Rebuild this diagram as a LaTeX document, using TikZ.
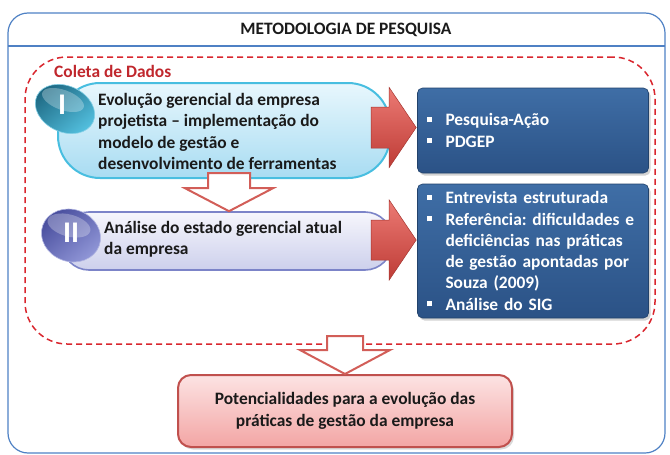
\documentclass[tikz,border=0pt]{standalone}
\usepackage{fontspec}
\setmainfont{Carlito}
\usetikzlibrary{shadows,calc,shapes.geometric}
\definecolor{outerblue}{HTML}{4F81C4}
\definecolor{dashred}{HTML}{D9262E}
\definecolor{coletared}{HTML}{C0272D}
\definecolor{cyanborder}{HTML}{48BEE0}
\definecolor{cyantop}{HTML}{E8F7FD}
\definecolor{cyanbot}{HTML}{A8DCF2}
\definecolor{lavborder}{HTML}{7C84C8}
\definecolor{lavtop}{HTML}{F6F6FC}
\definecolor{lavbot}{HTML}{CDD0EC}
\definecolor{steeltop}{HTML}{3F6EA6}
\definecolor{steelbot}{HTML}{2B5286}
\definecolor{arrowlight}{HTML}{EC7A74}
\definecolor{arrowdark}{HTML}{BE3C36}
\definecolor{arrowedge}{HTML}{A5352F}
\definecolor{pinktop}{HTML}{FCE3E3}
\definecolor{pinkbot}{HTML}{F3A5A4}
\definecolor{pinkborder}{HTML}{C0504D}
\definecolor{hollowred}{HTML}{D25E58}
\definecolor{tealdark}{HTML}{1C6680}
\definecolor{teallight}{HTML}{52BEDD}
\definecolor{purpdark}{HTML}{44499A}
\definecolor{purplight}{HTML}{8F95D6}
\definecolor{textdark}{HTML}{1A1A1A}
\newcommand\mybul{\makebox[19pt][l]{\rule[3.8pt]{5pt}{5pt}}}
\newcommand\myind{\hspace*{19pt}}
\tikzset{
  basefont/.style={font=\bfseries\fontsize{17.4}{21.3}\selectfont\frenchspacing},
  outerbox/.style={draw=outerblue, line width=1.2pt, rounded corners=20pt, inner sep=0},
  dashbox/.style={draw=dashred, dash pattern=on 6pt off 4pt, line width=1.5pt, rounded corners=42pt, inner sep=0},
  boxone/.style={draw=cyanborder, line width=2pt, top color=cyantop, bottom color=cyanbot, rounded corners=42pt, inner sep=0},
  boxtwo/.style={draw=lavborder, line width=1.6pt, top color=lavtop, bottom color=lavbot, rounded corners=27pt, inner sep=0},
  bluebox/.style={top color=steeltop, bottom color=steelbot, draw=steelbot!80!black, line width=0.6pt, rounded corners=5pt,
     text=white, text width=213pt, inner xsep=9pt, inner ysep=0pt, align=left, minimum width=231pt,
     drop shadow={opacity=0.35, shadow xshift=2pt, shadow yshift=-2.5pt}},
  pinkbox/.style={top color=pinktop, bottom color=pinkbot, draw=pinkborder, line width=2pt, rounded corners=13pt,
     align=center, text=textdark, inner sep=0,
     drop shadow={opacity=0.3, shadow xshift=2pt, shadow yshift=-2.5pt}},
  txt/.style={anchor=west, align=left, inner sep=0, text=textdark},
  numeral/.style={text=white, font=\bfseries\fontsize{30}{30}\selectfont, inner sep=0},
  tealball/.style={top color=tealdark, bottom color=teallight, shading angle=40, draw=teallight!70!white, line width=0.6pt},
  purpball/.style={top color=purpdark, bottom color=purplight, shading angle=40, draw=purplight!70!white, line width=0.6pt},
  gloss/.style={fill=white, opacity=0.28},
  redarrow/.style={top color=arrowlight, bottom color=arrowdark, draw=arrowedge, line width=0.5pt, line join=miter},
  hollowarrow/.style={fill=white, draw=hollowred, line width=2pt, line join=miter},
}
\begin{document}
\begin{tikzpicture}[x=1pt,y=1pt,basefont]
\useasboundingbox (0,0) rectangle (670,-455);
% outer frame
\node[outerbox, minimum width=657pt, minimum height=440pt] (outer) at (336.5,-233) {};
\coordinate (sepl) at (8,-46);
\coordinate (sepr) at (665,-46);
\draw[outerblue, line width=1.2pt] (sepl) -- (sepr);
\node[text=textdark, inner sep=0] (title) at (346,-30) {METODOLOGIA DE PESQUISA};
% dashed group
\node[dashbox, minimum width=630pt, minimum height=287pt] (coleta) at (340,-200.5) {};
\node[txt, text=coletared] (clabel) at (54,-71) {Coleta de Dados};
% box I
\node[boxone, minimum width=332pt, minimum height=95pt] (b1) at (224,-130.5) {};
\coordinate (c1) at (65,-109);
\shade[tealball] (c1) ellipse [x radius=31, y radius=23, rotate=-25];
\fill[gloss] ($(c1)+(-2,9)$) ellipse [x radius=22, y radius=10, rotate=-20];
\node[numeral] (n1) at (62,-105) {I};
\node[txt] (t1) at (98,-131.5) {Evolução gerencial da empresa\\projetista – implementação do\\modelo de gestão e\\desenvolvimento de ferramentas};
% box II
\node[boxtwo, minimum width=330pt, minimum height=58pt] (b2) at (227,-241) {};
\coordinate (c2) at (71,-235.5);
\shade[purpball] (c2) ellipse [x radius=30, y radius=26, rotate=-20];
\fill[gloss] ($(c2)+(-2,10)$) ellipse [x radius=22, y radius=11, rotate=-15];
\node[numeral] (n2) at (71,-233) {II};
\node[txt] (t2) at (104,-239) {Análise do estado gerencial atual\\da empresa};
% blue boxes
\node[bluebox, minimum height=85pt] (r1) at (533,-130.5) {\mybul Pesquisa-Ação\\\mybul PDGEP};
\node[bluebox, minimum height=134pt] (r2) at (533,-251) {\mybul Entrevista estruturada\\\mybul Referência: dificuldades e\\\myind deficiências nas práticas\\\myind de gestão apontadas por\\\myind Souza (2009)\\\mybul Análise do SIG};
% red arrows
\coordinate (ta) at ($(r1.west)+(-1,3)$);
\shade[redarrow] ($(ta)+(-45,20.5)$) -- ++(18,0) -- ++(0,19.5) -- (ta) -- ($(ta)+(-27,-40)$) -- ++(0,19.5) -- ++(-18,0) -- cycle;
\coordinate (tb) at ($(r2.west)+(-1,11)$);
\shade[redarrow] ($(tb)+(-45,20)$) -- ++(18,0) -- ++(0,20) -- (tb) -- ($(tb)+(-27,-40)$) -- ++(0,20) -- ++(-18,0) -- cycle;
% hollow arrows
\coordinate (tc) at (b2.north -| 229,0);
\draw[hollowarrow] ($(tc)+(-21,38)$) -- ++(42,0) -- ++(0,-15) -- ++(23,0) -- (tc) -- ($(tc)+(-44,23)$) -- ++(23,0) -- cycle;
% pink box
\node[pinkbox, minimum width=334pt, minimum height=72pt] (p) at (345,-411) {Potencialidades para a evolução das\\práticas de gestão da empresa};
\coordinate (td) at (p.north);
\draw[hollowarrow] ($(td)+(-18,38)$) -- ++(36,0) -- ++(0,-14) -- ++(27,0) -- (td) -- ($(td)+(-45,24)$) -- ++(27,0) -- cycle;
\end{tikzpicture}
\end{document}
